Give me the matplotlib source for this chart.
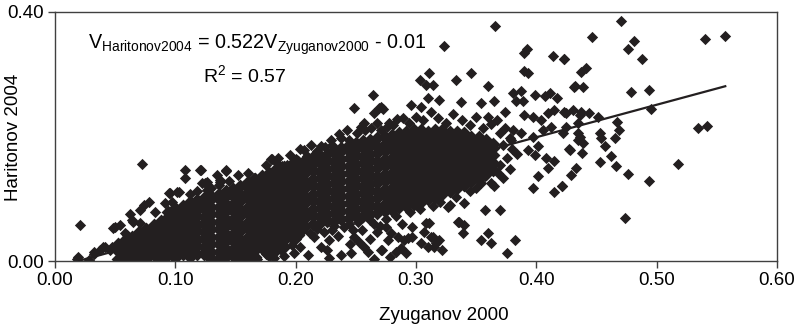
import matplotlib
matplotlib.use("Agg")
import matplotlib.pyplot as plt

plt.rcParams['font.family'] = ['Liberation Sans', 'DejaVu Sans']
plt.rcParams['mathtext.fontset'] = 'custom'
plt.rcParams['mathtext.rm'] = 'Liberation Sans'

# ---------------- data ----------------
x_label = "Zyuganov 2000"
y_label = "Haritonov 2004"
x_ticks = [0.0, 0.1, 0.2, 0.3, 0.4, 0.5, 0.6]
y_ticks = [0.0, 0.4]

slope = 0.522
intercept = -0.01
fit_x_range = [0.020, 0.557]

# dense core of the cloud: one column of estimated y values per x position
core_x = [0.052, 0.058, 0.064, 0.070, 0.076, 0.082, 0.088, 0.094, 0.100, 0.106,
          0.112, 0.118, 0.124, 0.130, 0.136, 0.142, 0.148, 0.154, 0.160, 0.166,
          0.172, 0.178, 0.184, 0.190, 0.196, 0.202, 0.208, 0.214, 0.220, 0.226,
          0.232, 0.238, 0.244, 0.250, 0.256, 0.262, 0.268, 0.274, 0.280, 0.286,
          0.292, 0.298, 0.304, 0.310, 0.316, 0.322, 0.328, 0.334, 0.340, 0.346,
          0.352, 0.358, 0.364]
core_y = [
    [0.004, 0.016, 0.027],
    [0.010, 0.022, 0.033],
    [0.004, 0.016, 0.028, 0.039],
    [0.010, 0.022, 0.034, 0.046],
    [0.004, 0.016, 0.028, 0.040, 0.052],
    [0.010, 0.022, 0.034, 0.046, 0.058],
    [0.004, 0.016, 0.028, 0.040, 0.052, 0.064],
    [0.010, 0.022, 0.034, 0.046, 0.058, 0.070, 0.078],
    [0.005, 0.017, 0.029, 0.041, 0.053, 0.065, 0.077, 0.085],
    [0.011, 0.023, 0.035, 0.047, 0.059, 0.071, 0.082, 0.089],
    [0.007, 0.019, 0.031, 0.043, 0.055, 0.067, 0.078, 0.088, 0.094],
    [0.012, 0.024, 0.036, 0.048, 0.060, 0.072, 0.084, 0.093, 0.098],
    [0.011, 0.023, 0.035, 0.047, 0.059, 0.071, 0.083, 0.095, 0.101],
    [0.004, 0.015, 0.027, 0.039, 0.051, 0.063, 0.075, 0.087, 0.099, 0.105],
    [0.004, 0.015, 0.027, 0.039, 0.051, 0.063, 0.075, 0.087, 0.099, 0.108],
    [0.008, 0.020, 0.032, 0.044, 0.056, 0.068, 0.080, 0.092, 0.104, 0.112],
    [0.008, 0.020, 0.032, 0.044, 0.056, 0.068, 0.080, 0.092, 0.104, 0.116],
    [0.003, 0.012, 0.024, 0.036, 0.048, 0.060, 0.072, 0.084, 0.096, 0.108, 0.120],
    [0.004, 0.015, 0.027, 0.039, 0.051, 0.063, 0.075, 0.087, 0.099, 0.111, 0.123, 0.127],
    [0.006, 0.018, 0.030, 0.042, 0.054, 0.066, 0.078, 0.090, 0.102, 0.114, 0.126, 0.132],
    [0.021, 0.033, 0.045, 0.057, 0.069, 0.081, 0.093, 0.105, 0.117, 0.129, 0.137],
    [0.010, 0.025, 0.037, 0.049, 0.061, 0.073, 0.085, 0.097, 0.109, 0.121, 0.133, 0.142],
    [0.017, 0.029, 0.041, 0.053, 0.065, 0.077, 0.089, 0.101, 0.113, 0.125, 0.137, 0.147],
    [0.022, 0.034, 0.046, 0.058, 0.070, 0.082, 0.094, 0.106, 0.118, 0.130, 0.142, 0.151],
    [0.038, 0.050, 0.062, 0.074, 0.086, 0.098, 0.110, 0.122, 0.134, 0.146, 0.155],
    [0.042, 0.054, 0.066, 0.078, 0.090, 0.102, 0.114, 0.126, 0.138, 0.150, 0.159],
    [0.057, 0.069, 0.081, 0.093, 0.105, 0.117, 0.129, 0.141, 0.153, 0.163],
    [0.060, 0.072, 0.084, 0.096, 0.108, 0.120, 0.132, 0.144, 0.156, 0.167],
    [0.061, 0.073, 0.085, 0.097, 0.109, 0.121, 0.133, 0.145, 0.157, 0.169],
    [0.064, 0.076, 0.088, 0.100, 0.112, 0.124, 0.136, 0.148, 0.160, 0.172],
    [0.065, 0.077, 0.089, 0.101, 0.113, 0.125, 0.137, 0.149, 0.161, 0.173, 0.178],
    [0.068, 0.080, 0.092, 0.104, 0.116, 0.128, 0.140, 0.152, 0.164, 0.176, 0.182],
    [0.069, 0.081, 0.093, 0.105, 0.117, 0.129, 0.141, 0.153, 0.165, 0.177, 0.186],
    [0.072, 0.084, 0.096, 0.108, 0.120, 0.132, 0.144, 0.156, 0.168, 0.180, 0.189],
    [0.073, 0.085, 0.097, 0.109, 0.121, 0.133, 0.145, 0.157, 0.169, 0.181, 0.192],
    [0.076, 0.088, 0.100, 0.112, 0.124, 0.136, 0.148, 0.160, 0.172, 0.184, 0.195],
    [0.077, 0.089, 0.101, 0.113, 0.125, 0.137, 0.149, 0.161, 0.173, 0.185, 0.197],
    [0.080, 0.092, 0.104, 0.116, 0.128, 0.140, 0.152, 0.164, 0.176, 0.188, 0.200],
    [0.082, 0.094, 0.106, 0.118, 0.130, 0.142, 0.154, 0.166, 0.178, 0.190, 0.203],
    [0.086, 0.098, 0.110, 0.122, 0.134, 0.146, 0.158, 0.170, 0.182, 0.194, 0.205],
    [0.088, 0.100, 0.112, 0.124, 0.136, 0.148, 0.160, 0.172, 0.184, 0.196, 0.207],
    [0.092, 0.104, 0.116, 0.128, 0.140, 0.152, 0.164, 0.176, 0.188, 0.200, 0.210],
    [0.095, 0.107, 0.119, 0.131, 0.143, 0.155, 0.167, 0.179, 0.191, 0.203, 0.211],
    [0.100, 0.112, 0.124, 0.136, 0.148, 0.160, 0.172, 0.184, 0.196, 0.208],
    [0.103, 0.115, 0.127, 0.139, 0.151, 0.163, 0.175, 0.187, 0.199, 0.211],
    [0.108, 0.120, 0.132, 0.144, 0.156, 0.168, 0.180, 0.192, 0.204, 0.211],
    [0.112, 0.124, 0.136, 0.148, 0.160, 0.172, 0.184, 0.196, 0.208],
    [0.118, 0.130, 0.142, 0.154, 0.166, 0.178, 0.190, 0.202, 0.208],
    [0.122, 0.134, 0.146, 0.158, 0.170, 0.182, 0.194, 0.205],
    [0.128, 0.140, 0.152, 0.164, 0.176, 0.188, 0.200],
    [0.133, 0.145, 0.157, 0.169, 0.181, 0.193, 0.199],
    [0.140, 0.152, 0.164, 0.176, 0.188, 0.194],
    [0.146, 0.158, 0.170, 0.182, 0.188],
]

# ragged fringe of points along the upper and lower edges of the core
edge_points = [
    (0.083, 0.078), (0.097, 0.094), (0.112, 0.108), (0.118, 0.112), (0.130, 0.118),
    (0.145, 0.128), (0.152, 0.138), (0.160, 0.142), (0.175, 0.155), (0.185, 0.165),
    (0.195, 0.170), (0.207, 0.178), (0.213, 0.186), (0.229, 0.194), (0.236, 0.204),
    (0.251, 0.205), (0.258, 0.210), (0.268, 0.222), (0.281, 0.219), (0.284, 0.228),
    (0.294, 0.222), (0.300, 0.232), (0.306, 0.226), (0.318, 0.230), (0.325, 0.222),
    (0.331, 0.236), (0.338, 0.226), (0.345, 0.219), (0.350, 0.231), (0.356, 0.214),
    (0.362, 0.220), (0.370, 0.205), (0.374, 0.214), (0.378, 0.198), (0.372, 0.186),
    (0.380, 0.180), (0.376, 0.165), (0.384, 0.172), (0.370, 0.155),
    (0.205, 0.048), (0.218, 0.052), (0.232, 0.056), (0.244, 0.060), (0.252, 0.062),
    (0.262, 0.066), (0.275, 0.068), (0.283, 0.072), (0.295, 0.078), (0.303, 0.084),
    (0.314, 0.088), (0.320, 0.095), (0.333, 0.103), (0.345, 0.112), (0.350, 0.118),
    (0.362, 0.126), (0.372, 0.134), (0.378, 0.148), (0.288, 0.060), (0.270, 0.057),
    (0.248, 0.050),
]

# scattered points above / right of the core
upper_points = [
    (0.470, 0.385), (0.446, 0.360), (0.481, 0.353), (0.476, 0.340), (0.488, 0.324),
    (0.540, 0.356), (0.557, 0.362), (0.423, 0.325), (0.437, 0.303), (0.441, 0.310),
    (0.431, 0.280), (0.439, 0.280), (0.479, 0.272), (0.494, 0.274), (0.495, 0.244),
    (0.534, 0.214), (0.542, 0.217), (0.5175, 0.156), (0.4936, 0.129), (0.476, 0.139),
    (0.474, 0.069), (0.366, 0.377), (0.3236, 0.345), (0.392, 0.340), (0.390, 0.334),
    (0.414, 0.330), (0.423, 0.325), (0.311, 0.302), (0.303, 0.291), (0.308, 0.283),
    (0.314, 0.283), (0.333, 0.291), (0.346, 0.302), (0.360, 0.281), (0.432, 0.281),
    (0.390, 0.305), (0.393, 0.302), (0.381, 0.270), (0.3875, 0.273), (0.383, 0.2565),
    (0.389, 0.2565), (0.399, 0.266), (0.407, 0.265), (0.411, 0.270), (0.417, 0.262),
    (0.337, 0.255), (0.310, 0.262), (0.319, 0.259), (0.296, 0.251), (0.289, 0.230),
    (0.304, 0.248), (0.3125, 0.240), (0.354, 0.254), (0.365, 0.2565), (0.374, 0.240),
    (0.367, 0.227), (0.360, 0.232), (0.390, 0.235), (0.397, 0.232), (0.404, 0.227),
    (0.410, 0.238), (0.415, 0.243), (0.423, 0.240), (0.4306, 0.243), (0.436, 0.235),
    (0.4125, 0.216), (0.4056, 0.211), (0.397, 0.200), (0.3875, 0.2056), (0.379, 0.195),
    (0.3806, 0.211), (0.3986, 0.171), (0.408, 0.165), (0.401, 0.184), (0.393, 0.179),
    (0.415, 0.160), (0.410, 0.149), (0.429, 0.138), (0.428, 0.179), (0.435, 0.195),
    (0.401, 0.136), (0.397, 0.117), (0.415, 0.1116), (0.421, 0.120), (0.425, 0.238),
    (0.437, 0.240), (0.444, 0.238), (0.451, 0.231), (0.435, 0.222), (0.425, 0.216),
    (0.422, 0.206), (0.435, 0.206), (0.436, 0.200), (0.453, 0.206), (0.454, 0.198),
    (0.467, 0.224), (0.469, 0.211), (0.465, 0.198), (0.439, 0.190), (0.438, 0.174),
    (0.427, 0.180), (0.457, 0.185), (0.462, 0.168), (0.453, 0.159), (0.466, 0.153),
    (0.433, 0.149), (0.421, 0.121), (0.271, 0.248), (0.276, 0.216),
    (0.2639, 0.267), (0.2486, 0.246), (0.2653, 0.238), (0.2722, 0.244), (0.257, 0.222),
    (0.2625, 0.2136), (0.2708, 0.211), (0.2778, 0.222), (0.243, 0.211), (0.2375, 0.1976),
    (0.2444, 0.195), (0.2036, 0.180), (0.2097, 0.168), (0.200, 0.1638), (0.218, 0.176),
    (0.224, 0.183), (0.2306, 0.1868), (0.1797, 0.1638), (0.1847, 0.157), (0.189, 0.152),
    (0.1417, 0.1465), (0.1347, 0.1385), (0.1375, 0.130), (0.1264, 0.1277), (0.1208, 0.1465),
    (0.1653, 0.133), (0.157, 0.1224), (0.1708, 0.125), (0.1806, 0.164), (0.193, 0.1546),
    (0.221, 0.184), (0.2694, 0.246), (0.254, 0.216),
    (0.340, 0.122), (0.354, 0.125), (0.365, 0.120), (0.368, 0.141), (0.357, 0.136),
    (0.328, 0.114),
]

# scattered points on the left end, near the start of the cloud
left_points = [
    (0.0208, 0.058), (0.0722, 0.1557), (0.0194, 0.007), (0.032, 0.015), (0.040, 0.023),
    (0.047, 0.023), (0.0486, 0.0525), (0.054, 0.058), (0.0625, 0.0757), (0.0708, 0.082),
    (0.0778, 0.094), (0.108, 0.1454), (0.108, 0.133), (0.1214, 0.1454), (0.1222, 0.125),
    (0.1264, 0.1143), (0.1417, 0.1438), (0.1375, 0.1277), (0.1028, 0.1116), (0.0958, 0.109),
    (0.0917, 0.093), (0.0583, 0.0446), (0.065, 0.063), (0.071, 0.061), (0.0736, 0.090),
    (0.0375, 0.0177), (0.0417, 0.023), (0.0944, 0.109), (0.101, 0.1116), (0.125, 0.125),
    (0.136, 0.122), (0.018, 0.004), (0.028, 0.002), (0.032, 0.012), (0.046, 0.018),
    (0.050, 0.055), (0.057, 0.002), (0.060, 0.042), (0.064, 0.066),
]

# scattered points below the core
lower_points = [
    (0.3694, 0.082), (0.357, 0.082), (0.340, 0.093), (0.3264, 0.0875), (0.336, 0.063),
    (0.340, 0.058), (0.339, 0.0446), (0.360, 0.0446), (0.354, 0.0338), (0.3625, 0.0285),
    (0.382, 0.0338), (0.376, 0.0124), (0.311, 0.0607), (0.307, 0.047), (0.314, 0.039),
    (0.317, 0.0285), (0.322, 0.0177), (0.319, 0.0338), (0.310, 0.023), (0.297, 0.055),
    (0.297, 0.039), (0.290, 0.034), (0.2875, 0.0205), (0.2917, 0.0124), (0.2764, 0.034),
    (0.272, 0.0177), (0.278, 0.007), (0.283, 0.015), (0.279, 0.0446), (0.285, 0.039),
    (0.275, 0.055), (0.268, 0.047), (0.3125, 0.039), (0.315, 0.023), (0.304, 0.0285),
    (0.293, 0.0365), (0.271, 0.0177), (0.2597, 0.015), (0.2486, 0.039), (0.2528, 0.031),
    (0.257, 0.023), (0.2458, 0.0124), (0.2375, 0.0097), (0.2264, 0.0177), (0.221, 0.023),
    (0.2278, 0.034), (0.2236, 0.047), (0.215, 0.039), (0.204, 0.023), (0.1986, 0.0124),
    (0.1875, 0.0177), (0.3347, 0.063), (0.308, 0.0607), (0.328, 0.090),
    (0.135, 0.003), (0.150, 0.004), (0.160, 0.008), (0.168, 0.003), (0.175, 0.012),
    (0.182, 0.005), (0.190, 0.008), (0.197, 0.025), (0.210, 0.010), (0.145, 0.010),
    (0.158, 0.016), (0.172, 0.020), (0.185, 0.028), (0.200, 0.035), (0.212, 0.045),
    (0.230, 0.050), (0.240, 0.055), (0.265, 0.060), (0.255, 0.050), (0.262, 0.035),
    (0.245, 0.028), (0.235, 0.040), (0.228, 0.005), (0.265, 0.003),
]

# ---------------- drawing ----------------
ink = '#231f20'
fig = plt.figure(figsize=(8.08, 3.35), dpi=100)
ax = fig.add_axes([55 / 808, 74 / 335, 722 / 808, 249 / 335])

cx, cy = [], []
for xv, ys in zip(core_x, core_y):
    for yv in ys:
        cx.append(xv)
        cy.append(yv)
ax.scatter(cx, cy, s=50, marker='D', color=ink, linewidths=0, zorder=2)

for pts in (edge_points, upper_points, left_points, lower_points):
    ax.scatter([p[0] for p in pts], [p[1] for p in pts], s=33, marker='D',
               color=ink, linewidths=0, zorder=2)

fit_y = [slope * v + intercept for v in fit_x_range]
ax.plot(fit_x_range, fit_y, color=ink, lw=1.6, zorder=3)

ax.set_xlim(0, 0.6)
ax.set_ylim(0, 0.4)
ax.set_xticks(x_ticks)
ax.set_xticklabels([f"{v:.2f}" for v in x_ticks])
ax.set_yticks(y_ticks)
ax.set_yticklabels([f"{v:.2f}" for v in y_ticks])
ax.tick_params(direction='out', length=5, width=1, color='#404040',
               labelsize=13.5, pad=3, labelcolor='black')
for sp in ax.spines.values():
    sp.set_color('#404040')
    sp.set_linewidth(1.0)

ax.text(0.0457, 0.867,
        r'$\mathregular{V_{Haritonov2004}}$ = 0.522$\mathregular{V_{Zyuganov2000}}$ - 0.01',
        transform=ax.transAxes, ha='left', va='center', fontsize=14.2)
ax.text(0.263, 0.745, r'$\mathregular{R^2}$ = 0.57', transform=ax.transAxes,
        ha='center', va='center', fontsize=14)

fig.text(444 / 808, 1 - 315 / 335, x_label, ha='center', va='center', fontsize=13.5)
fig.text(14 / 808, 1 - 137 / 335, y_label, ha='center', va='center',
         rotation=90, fontsize=13.5)

fig.savefig('out.png', dpi=100)
